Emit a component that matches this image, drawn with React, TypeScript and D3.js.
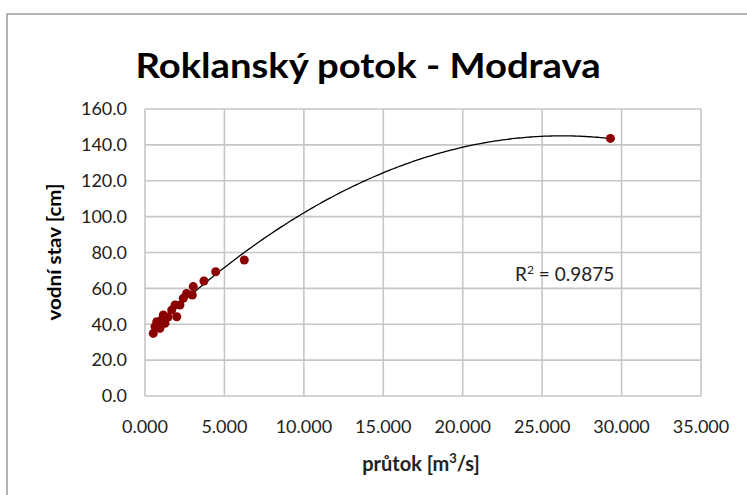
import React from "react";
import * as d3 from "d3";

const flowValues = [0.52, 0.63, 0.74, 0.94, 1.05, 1.15, 1.26, 1.45, 1.68, 1.89, 2.0, 2.2, 2.41, 2.62, 2.98, 3.04, 3.71, 4.45, 6.25, 29.3];
const levelValues = [34.9, 38.6, 41.4, 37.7, 42.4, 45.2, 40.5, 44.0, 47.9, 50.7, 44.2, 50.7, 54.5, 57.2, 56.3, 61.0, 64.1, 69.3, 75.8, 143.6];
const xTicks = [0, 5, 10, 15, 20, 25, 30, 35];
const yTicks = [0, 20, 40, 60, 80, 100, 120, 140, 160];
const titleText = "Roklanský potok - Modrava";
const yTitle = "vodní stav [cm]";
const r2Text = "0.9875";

function quadFit(xs: number[], ys: number[]) {
  const n = xs.length;
  let s0 = n, s1 = 0, s2 = 0, s3 = 0, s4 = 0, t0 = 0, t1 = 0, t2 = 0;
  for (let i = 0; i < n; i++) {
    const x = xs[i], y = ys[i];
    s1 += x; s2 += x * x; s3 += x * x * x; s4 += x * x * x * x;
    t0 += y; t1 += x * y; t2 += x * x * y;
  }
  const A = [
    [s0, s1, s2, t0],
    [s1, s2, s3, t1],
    [s2, s3, s4, t2],
  ];
  for (let i = 0; i < 3; i++) {
    let p = i;
    for (let r = i + 1; r < 3; r++) if (Math.abs(A[r][i]) > Math.abs(A[p][i])) p = r;
    [A[i], A[p]] = [A[p], A[i]];
    for (let r = 0; r < 3; r++) {
      if (r === i) continue;
      const f = A[r][i] / A[i][i];
      for (let c = i; c < 4; c++) A[r][c] -= f * A[i][c];
    }
  }
  return [A[0][3] / A[0][0], A[1][3] / A[1][1], A[2][3] / A[2][2]];
}

export default function App() {
  const W = 747, H = 495;
  const left = 145, right = 701, top = 109, bottom = 396;
  const x = d3.scaleLinear().domain([0, 35]).range([left, right]);
  const y = d3.scaleLinear().domain([0, 160]).range([bottom, top]);
  const [a, b, c] = quadFit(flowValues, levelValues);
  const xmin = d3.min(flowValues) as number;
  const xmax = d3.max(flowValues) as number;
  const samples = d3.range(0, 201).map((i) => xmin + ((xmax - xmin) * i) / 200);
  const line = d3
    .line<number>()
    .x((v) => x(v))
    .y((v) => y(a + b * v + c * v * v));
  const grid = "#c6c6c6";
  const font = "Lato, 'Open Sans', sans-serif";
  return (
    <svg width={W} height={H} style={{ position: "absolute", left: 0, top: 0, background: "#fff" }}>
      <rect x={7} y={14} width={W} height={H} fill="#fff" stroke="#9a9a9a" strokeWidth={1.5} />
      <text
        x={368}
        y={78}
        textAnchor="middle"
        fontFamily={font}
        fontWeight={700}
        fontSize={35}
        fill="#000"
        textLength={465}
        lengthAdjust="spacingAndGlyphs"
      >
        {titleText}
      </text>
      {yTicks.map((t) => (
        <line key={"gy" + t} x1={left} x2={right} y1={y(t)} y2={y(t)} stroke={grid} strokeWidth={1.6} />
      ))}
      {xTicks.map((t) => (
        <line key={"gx" + t} x1={x(t)} x2={x(t)} y1={top} y2={bottom} stroke={grid} strokeWidth={1.6} />
      ))}
      {yTicks.map((t) => (
        <text key={"ty" + t} x={127} y={y(t)} dy="0.35em" textAnchor="end" fontFamily={font} fontSize={18} fill="#222">
          {d3.format(".1f")(t)}
        </text>
      ))}
      {xTicks.map((t) => (
        <text key={"tx" + t} x={x(t)} y={433} textAnchor="middle" fontFamily={font} fontSize={18} fill="#222">
          {d3.format(".3f")(t)}
        </text>
      ))}
      <text
        transform={`translate(61,252) rotate(-90)`}
        textAnchor="middle"
        fontFamily={font}
        fontWeight={700}
        fontSize={19}
        fill="#000"
        textLength={137}
        lengthAdjust="spacingAndGlyphs"
      >
        {yTitle}
      </text>
      <text x={421} y={471} textAnchor="middle" fontFamily={font} fontWeight={700} fontSize={20} fill="#222">
        průtok [m<tspan dy={-8} fontSize={13}>3</tspan>
        <tspan dy={8}>/s]</tspan>
      </text>
      <path d={line(samples) || ""} fill="none" stroke="#000" strokeWidth={1.3} />
      {flowValues.map((v, i) => (
        <circle key={"p" + i} cx={x(v)} cy={y(levelValues[i])} r={4.5} fill="#8b0000" />
      ))}
      <text x={515} y={281} fontFamily={font} fontSize={19} fill="#222">
        R<tspan dy={-7} fontSize={12}>2</tspan>
        <tspan dy={7}> = {r2Text}</tspan>
      </text>
    </svg>
  );
}
